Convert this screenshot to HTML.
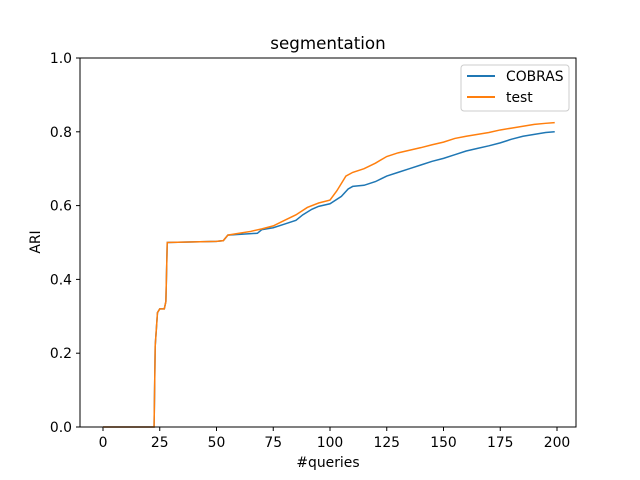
<!DOCTYPE html>
<html><head><meta charset="utf-8"><style>
body{margin:0;background:#fff;}
svg{display:block;font-family:"DejaVu Sans","Liberation Sans",sans-serif;}
</style></head><body>
<svg id="chart" width="640" height="480">
<rect width="640" height="480" fill="#fff"/>
<text x="328" y="49" font-size="16.7" text-anchor="middle">segmentation</text>
<g id="axes"></g>
<g id="series"></g>
<rect x="80" y="58" width="496" height="369" fill="none" stroke="#000" stroke-width="1"/>
<text x="328" y="467" font-size="13.9" text-anchor="middle">#queries</text>
<text x="40" y="242" font-size="13.9" text-anchor="middle" transform="rotate(-90 40 242)">ARI</text>
<g>
<rect x="461" y="65" width="108" height="46" fill="#fff" stroke="#ccc" rx="3"/>
<line x1="467" y1="76" x2="495" y2="76" stroke="#1f77b4" stroke-width="2"/>
<text x="506" y="81" font-size="13.9">COBRAS</text>
<line x1="467" y1="97" x2="495" y2="97" stroke="#ff7f0e" stroke-width="2"/>
<text x="506" y="102" font-size="13.9">test</text>
</g>
</svg>
<script>
const xTicks=[0,25,50,75,100,125,150,175,200];
const yTicks=[0.0,0.2,0.4,0.6,0.8,1.0];
const cobrasX=[0,22.5,23,24,25,27,27.7,28.3,50,53,55,60,68,70,75,80,85,88,92,95,100,105,108,110,115,120,125,130,135,140,145,150,155,160,165,170,175,180,185,190,195,199];
const cobrasY=[0,0,0.22,0.31,0.32,0.32,0.34,0.50,0.503,0.505,0.52,0.522,0.525,0.535,0.54,0.55,0.56,0.575,0.59,0.598,0.605,0.625,0.645,0.652,0.655,0.665,0.68,0.69,0.70,0.71,0.72,0.728,0.738,0.748,0.755,0.762,0.77,0.78,0.788,0.793,0.798,0.80];
const testX=[0,22.5,23,24,25,27,27.7,28.3,50,53,55,60,65,70,75,80,85,90,95,100,103,105,107,110,115,120,125,130,135,140,145,150,155,160,165,170,175,180,185,190,195,199];
const testY=[0,0,0.22,0.31,0.32,0.32,0.34,0.50,0.503,0.505,0.52,0.525,0.53,0.537,0.545,0.56,0.575,0.595,0.607,0.615,0.64,0.66,0.68,0.69,0.70,0.715,0.733,0.743,0.75,0.757,0.765,0.772,0.782,0.788,0.793,0.798,0.805,0.81,0.815,0.82,0.823,0.825];
const NS="http://www.w3.org/2000/svg";
function xs(v){return 103+v*(557-103)/200;}
function ys(v){return 427-v*369;}
const axes=document.getElementById('axes');
for(const t of xTicks){
 const l=document.createElementNS(NS,'line');
 l.setAttribute('x1',xs(t));l.setAttribute('x2',xs(t));l.setAttribute('y1',427);l.setAttribute('y2',431);l.setAttribute('stroke','#000');
 
 
 axes.appendChild(l);
 const tx=document.createElementNS(NS,'text');
 tx.setAttribute('x',xs(t));tx.setAttribute('y',447);tx.setAttribute('font-size','13.9');tx.setAttribute('text-anchor','middle');
 tx.textContent=t;
 
 
 axes.appendChild(tx);
}
for(const t of yTicks){
 const l=document.createElementNS(NS,'line');
 l.setAttribute('x1',76);l.setAttribute('x2',80);l.setAttribute('y1',ys(t));l.setAttribute('y2',ys(t));l.setAttribute('stroke','#000');
 
 
 axes.appendChild(l);
 const tx=document.createElementNS(NS,'text');
 tx.setAttribute('x',72);tx.setAttribute('y',ys(t)+5);tx.setAttribute('font-size','13.9');tx.setAttribute('text-anchor','end');
 tx.textContent=t.toFixed(1);
 
 
 axes.appendChild(tx);
}
const series=document.getElementById('series');
function draw(X,Y,c,name){
 const p=document.createElementNS(NS,'polyline');
 p.setAttribute('points',X.map((x,i)=>xs(x)+','+ys(Y[i])).join(' '));
 p.setAttribute('fill','none');p.setAttribute('stroke',c);p.setAttribute('stroke-width','1.5');
 
 
 series.appendChild(p);
}
draw(cobrasX,cobrasY,'#1f77b4','cobras-line');
draw(testX,testY,'#ff7f0e','test-line');
</script>
</body></html>
